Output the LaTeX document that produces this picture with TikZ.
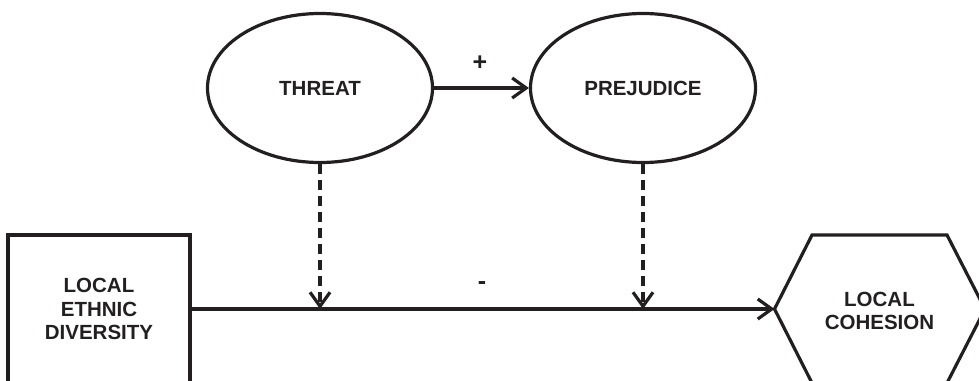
\documentclass[tikz,border=0pt]{standalone}
\usepackage{fontspec}
\setmainfont{Liberation Sans}
\usetikzlibrary{shapes.geometric,arrows.meta}
\definecolor{ink}{HTML}{231F20}
\begin{document}
\begin{tikzpicture}[x=1pt,y=-1pt,
  every node/.style={text=ink,font=\fontsize{20.5}{23.5}\selectfont\bfseries,align=center,inner sep=0pt},
  sign/.style={font=\fontsize{25}{25}\selectfont\bfseries},
  oval/.style={draw=ink,line width=3.2pt,ellipse,minimum width=225pt,minimum height=149pt},
  boxnode/.style={draw=ink,line width=3.2pt,rectangle,minimum width=182pt,minimum height=148pt},
  link/.style={draw=ink,line width=3.2pt,-{Straight Barb[length=14pt,width=20pt,line width=3.2pt]}},
  dlink/.style={link,dash pattern=on 10pt off 6pt}]
\useasboundingbox (0,0) rectangle (979,380);
\node[oval] (threat) at (320,88) {THREAT};
\node[oval] (prej) at (643,88) {PREJUDICE};
\node[boxnode] (div) at (99,309) {LOCAL\\ETHNIC\\DIVERSITY};
\draw[ink,line width=3.2pt,line join=miter] (774.5,309) -- (812,235) -- (947,235) -- (985,309) -- (947,383) -- (812,383) -- cycle;
\coordinate (cohL) at (774.5,309);
\node (coh) at (879.5,311) {LOCAL\\COHESION};
\draw[link] (threat.east) -- (prej.west);
\draw[link] (div.east) -- (cohL);
\draw[dlink] (threat.south) -- (threat.south |- div.east);
\draw[dlink] (prej.south) -- (prej.south |- div.east);
\node[sign] (plus) at (480,63) {+};
\node[sign] (minus) at (482,286) {-};
\end{tikzpicture}
\end{document}
